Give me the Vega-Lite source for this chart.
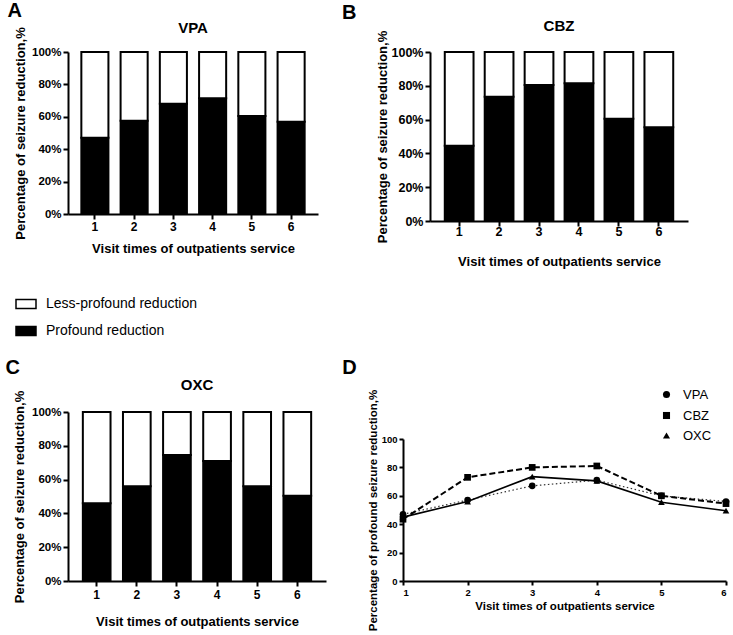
{
  "$schema": "https://vega.github.io/schema/vega-lite/v6.json",
  "padding": {"left": 5, "top": 0, "right": 2, "bottom": 3},
  "config": {
    "font": "Liberation Sans",
    "view": {"stroke": null},
    "axis": {"domainColor": "black", "domainWidth": 2, "tickColor": "black", "tickWidth": 2, "tickSize": 5, "labelColor": "black", "labelFontWeight": "bold", "labelFont": "Liberation Sans", "titleFont": "Liberation Sans", "titleFontWeight": "bold", "titleColor": "black", "grid": false},
    "title": {"fontWeight": "bold", "color": "black", "font": "Liberation Sans"},
    "legend": {"labelFont": "Liberation Sans", "labelColor": "black"}
  },
  "datasets": {
    "bars": [
      {"drug": "VPA", "visit": 1, "category": "Profound reduction", "pct": 47, "ord": 1},
      {"drug": "VPA", "visit": 1, "category": "Less-profound reduction", "pct": 53, "ord": 2},
      {"drug": "VPA", "visit": 2, "category": "Profound reduction", "pct": 57.5, "ord": 1},
      {"drug": "VPA", "visit": 2, "category": "Less-profound reduction", "pct": 42.5, "ord": 2},
      {"drug": "VPA", "visit": 3, "category": "Profound reduction", "pct": 68, "ord": 1},
      {"drug": "VPA", "visit": 3, "category": "Less-profound reduction", "pct": 32, "ord": 2},
      {"drug": "VPA", "visit": 4, "category": "Profound reduction", "pct": 71.5, "ord": 1},
      {"drug": "VPA", "visit": 4, "category": "Less-profound reduction", "pct": 28.5, "ord": 2},
      {"drug": "VPA", "visit": 5, "category": "Profound reduction", "pct": 60.5, "ord": 1},
      {"drug": "VPA", "visit": 5, "category": "Less-profound reduction", "pct": 39.5, "ord": 2},
      {"drug": "VPA", "visit": 6, "category": "Profound reduction", "pct": 57, "ord": 1},
      {"drug": "VPA", "visit": 6, "category": "Less-profound reduction", "pct": 43, "ord": 2},
      {"drug": "CBZ", "visit": 1, "category": "Profound reduction", "pct": 44.5, "ord": 1},
      {"drug": "CBZ", "visit": 1, "category": "Less-profound reduction", "pct": 55.5, "ord": 2},
      {"drug": "CBZ", "visit": 2, "category": "Profound reduction", "pct": 73.5, "ord": 1},
      {"drug": "CBZ", "visit": 2, "category": "Less-profound reduction", "pct": 26.5, "ord": 2},
      {"drug": "CBZ", "visit": 3, "category": "Profound reduction", "pct": 80.5, "ord": 1},
      {"drug": "CBZ", "visit": 3, "category": "Less-profound reduction", "pct": 19.5, "ord": 2},
      {"drug": "CBZ", "visit": 4, "category": "Profound reduction", "pct": 81.5, "ord": 1},
      {"drug": "CBZ", "visit": 4, "category": "Less-profound reduction", "pct": 18.5, "ord": 2},
      {"drug": "CBZ", "visit": 5, "category": "Profound reduction", "pct": 60.5, "ord": 1},
      {"drug": "CBZ", "visit": 5, "category": "Less-profound reduction", "pct": 39.5, "ord": 2},
      {"drug": "CBZ", "visit": 6, "category": "Profound reduction", "pct": 55.5, "ord": 1},
      {"drug": "CBZ", "visit": 6, "category": "Less-profound reduction", "pct": 44.5, "ord": 2},
      {"drug": "OXC", "visit": 1, "category": "Profound reduction", "pct": 46, "ord": 1},
      {"drug": "OXC", "visit": 1, "category": "Less-profound reduction", "pct": 54, "ord": 2},
      {"drug": "OXC", "visit": 2, "category": "Profound reduction", "pct": 56, "ord": 1},
      {"drug": "OXC", "visit": 2, "category": "Less-profound reduction", "pct": 44, "ord": 2},
      {"drug": "OXC", "visit": 3, "category": "Profound reduction", "pct": 74.5, "ord": 1},
      {"drug": "OXC", "visit": 3, "category": "Less-profound reduction", "pct": 25.5, "ord": 2},
      {"drug": "OXC", "visit": 4, "category": "Profound reduction", "pct": 71, "ord": 1},
      {"drug": "OXC", "visit": 4, "category": "Less-profound reduction", "pct": 29, "ord": 2},
      {"drug": "OXC", "visit": 5, "category": "Profound reduction", "pct": 56, "ord": 1},
      {"drug": "OXC", "visit": 5, "category": "Less-profound reduction", "pct": 44, "ord": 2},
      {"drug": "OXC", "visit": 6, "category": "Profound reduction", "pct": 50.5, "ord": 1},
      {"drug": "OXC", "visit": 6, "category": "Less-profound reduction", "pct": 49.5, "ord": 2}
    ],
    "lines": [
      {"drug": "VPA", "visit": 1, "pct": 47},
      {"drug": "VPA", "visit": 2, "pct": 57},
      {"drug": "VPA", "visit": 3, "pct": 67},
      {"drug": "VPA", "visit": 4, "pct": 71},
      {"drug": "VPA", "visit": 5, "pct": 60},
      {"drug": "VPA", "visit": 6, "pct": 56},
      {"drug": "CBZ", "visit": 1, "pct": 43.5},
      {"drug": "CBZ", "visit": 2, "pct": 73},
      {"drug": "CBZ", "visit": 3, "pct": 80},
      {"drug": "CBZ", "visit": 4, "pct": 81},
      {"drug": "CBZ", "visit": 5, "pct": 60},
      {"drug": "CBZ", "visit": 6, "pct": 54.5},
      {"drug": "OXC", "visit": 1, "pct": 45},
      {"drug": "OXC", "visit": 2, "pct": 56},
      {"drug": "OXC", "visit": 3, "pct": 73.5},
      {"drug": "OXC", "visit": 4, "pct": 70.5},
      {"drug": "OXC", "visit": 5, "pct": 55.5},
      {"drug": "OXC", "visit": 6, "pct": 49.5}
    ]
  },
  "vconcat": [
    {
      "hconcat": [
        {
          "title": {"text": "A", "anchor": "start", "fontSize": 20, "offset": 0, "dx": -7},
          "vconcat": [
            {
              "width": 250, "height": 162,
              "title": {"text": "VPA", "fontSize": 15, "anchor": "middle", "offset": -9},
              "data": {"name": "bars"},
              "transform": [{"filter": "datum.drug === 'VPA'"}],
              "mark": {"type": "bar", "stroke": "black", "strokeWidth": 2},
              "encoding": {
                "x": {"field": "visit", "type": "ordinal", "scale": {"paddingInner": 0.31, "paddingOuter": 0.34}, "axis": {"labelAngle": 0, "title": "Visit times of outpatients service", "titleFontSize": 13, "labelFontSize": 12, "titlePadding": 10, "labelPadding": 2}},
                "y": {"field": "pct", "type": "quantitative", "stack": "zero", "scale": {"domain": [0, 100]}, "axis": {"values": [0, 20, 40, 60, 80, 100], "labelExpr": "datum.value + '%'", "title": "Percentage of seizure reduction,%", "titleFontSize": 13, "labelFontSize": 11.5, "titlePadding": 4, "labelPadding": 2}},
                "fill": {"field": "category", "type": "nominal", "scale": {"domain": ["Less-profound reduction", "Profound reduction"], "range": ["white", "black"]}, "legend": {"title": null, "orient": "none", "legendX": -53, "legendY": 241, "symbolType": "M-1,-0.45H1V0.45H-1Z", "symbolSize": 400, "symbolStrokeColor": "black", "symbolStrokeWidth": 1.5, "labelFontSize": 14, "labelFontWeight": "normal", "rowPadding": 8, "labelOffset": 9}},
                "order": {"field": "ord", "type": "quantitative"}
              }
            }
          ]
        },
        {
          "title": {"text": "B", "anchor": "start", "fontSize": 20, "offset": -4, "dx": -34},
          "vconcat": [
            {
              "width": 258, "height": 169,
              "title": {"text": "CBZ", "fontSize": 15, "anchor": "middle", "offset": -4},
              "data": {"name": "bars"},
              "transform": [{"filter": "datum.drug === 'CBZ'"}],
              "mark": {"type": "bar", "stroke": "black", "strokeWidth": 2},
              "encoding": {
                "x": {"field": "visit", "type": "ordinal", "scale": {"paddingInner": 0.28, "paddingOuter": 0.37}, "axis": {"labelAngle": 0, "title": "Visit times of outpatients service", "titleFontSize": 13, "labelFontSize": 12.5, "titlePadding": 18, "labelPadding": -1}},
                "y": {"field": "pct", "type": "quantitative", "stack": "zero", "scale": {"domain": [0, 100]}, "axis": {"values": [0, 20, 40, 60, 80, 100], "labelExpr": "datum.value + '%'", "title": "Percentage of seizure reduction,%", "titleFontSize": 13, "labelFontSize": 12.5, "titlePadding": 2, "labelPadding": 2}},
                "fill": {"field": "category", "type": "nominal", "legend": null},
                "order": {"field": "ord", "type": "quantitative"}
              }
            }
          ]
        }
      ],
      "spacing": 24
    },
    {
      "hconcat": [
        {
          "title": {"text": "C", "anchor": "start", "fontSize": 20, "offset": 0, "dx": -8},
          "vconcat": [
            {
              "width": 258, "height": 169,
              "title": {"text": "OXC", "fontSize": 15, "anchor": "middle", "offset": -3},
              "data": {"name": "bars"},
              "transform": [{"filter": "datum.drug === 'OXC'"}],
              "mark": {"type": "bar", "stroke": "black", "strokeWidth": 2},
              "encoding": {
                "x": {"field": "visit", "type": "ordinal", "scale": {"paddingInner": 0.31, "paddingOuter": 0.37}, "axis": {"labelAngle": 0, "title": "Visit times of outpatients service", "titleFontSize": 13, "labelFontSize": 12, "titlePadding": 15, "labelPadding": 3}},
                "y": {"field": "pct", "type": "quantitative", "stack": "zero", "scale": {"domain": [0, 100]}, "axis": {"values": [0, 20, 40, 60, 80, 100], "labelExpr": "datum.value + '%'", "title": "Percentage of seizure reduction,%", "titleFontSize": 13, "labelFontSize": 11.5, "titlePadding": 5, "labelPadding": 2}},
                "fill": {"field": "category", "type": "nominal", "legend": null},
                "order": {"field": "ord", "type": "quantitative"}
              }
            }
          ]
        },
        {
          "title": {"text": "D", "anchor": "start", "fontSize": 20, "offset": 11, "dx": -25},
          "vconcat": [
            {
              "width": 323, "height": 169,
              "data": {"name": "lines"},
              "encoding": {
                "x": {"field": "visit", "type": "quantitative", "scale": {"domain": [1, 6], "nice": false}, "axis": {"values": [1, 2, 3, 4, 5, 6], "format": "d", "title": "Visit times of outpatients service", "titleFontSize": 11.5, "labelFontSize": 9.5, "tickSize": 4, "titlePadding": 4, "labelPadding": 2}},
                "y": {"field": "pct", "type": "quantitative", "scale": {"domain": [0, 100], "range": [169, 27]}, "axis": {"values": [0, 20, 40, 60, 80, 100], "title": "Percentage of profound seizure reduction,%", "titleFontSize": 11.5, "labelFontSize": 9.5, "tickSize": 4, "titlePadding": 3, "labelPadding": 2}}
              },
              "layer": [
                {
                  "transform": [{"filter": "datum.drug === 'VPA'"}],
                  "mark": {"type": "line", "color": "#333333", "strokeWidth": 1.2, "strokeDash": [1.5, 2.5]}
                },
                {
                  "transform": [{"filter": "datum.drug === 'CBZ'"}],
                  "mark": {"type": "line", "color": "black", "strokeWidth": 2, "strokeDash": [6, 3]}
                },
                {
                  "transform": [{"filter": "datum.drug === 'OXC'"}],
                  "mark": {"type": "line", "color": "black", "strokeWidth": 1.6}
                },
                {
                  "mark": {"type": "point", "filled": true, "color": "black", "size": 45, "opacity": 1},
                  "encoding": {
                    "shape": {"field": "drug", "type": "nominal", "scale": {"domain": ["VPA", "CBZ", "OXC"], "range": ["circle", "square", "triangle-up"]}, "legend": {"title": null, "orient": "none", "legendX": 592, "legendY": 336, "labelFontSize": 13, "labelFontWeight": "normal", "symbolSize": 50, "rowPadding": 6, "labelOffset": 10, "symbolFillColor": "black"}}
                  }
                }
              ]
            }
          ]
        }
      ],
      "spacing": 16
    }
  ],
  "spacing": 89
}
